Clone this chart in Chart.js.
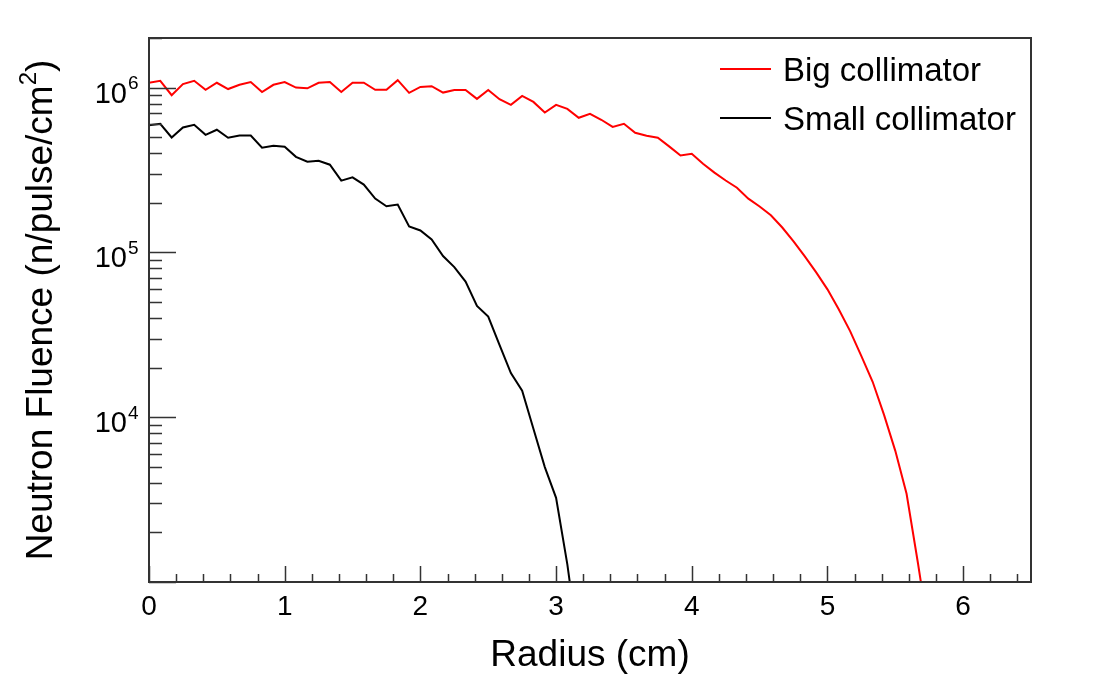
<!DOCTYPE html>
<html>
<head>
<meta charset="utf-8">
<script src="https://cdn.jsdelivr.net/npm/chart.js@4"></script>
<style>
  html, body { margin: 0; padding: 0; background: #fff; }
  #wrap { width: 1103px; height: 679px; }
</style>
</head>
<body>
<div id="wrap"><canvas id="fluence"></canvas></div>
<script>
// radius in cm (bins of 1/12 cm)
var radius = [0, 0.083, 0.167, 0.25, 0.333, 0.417, 0.5, 0.583, 0.667, 0.75,
  0.833, 0.917, 1, 1.083, 1.167, 1.25, 1.333, 1.417, 1.5, 1.583,
  1.667, 1.75, 1.833, 1.917, 2, 2.083, 2.167, 2.25, 2.333, 2.417,
  2.5, 2.583, 2.667, 2.75, 2.833, 2.917, 3, 3.083, 3.167, 3.25,
  3.333, 3.417, 3.5, 3.583, 3.667, 3.75, 3.833, 3.917, 4, 4.083,
  4.167, 4.25, 4.333, 4.417, 4.5, 4.583, 4.667, 4.75, 4.833, 4.917,
  5, 5.083, 5.167, 5.25, 5.333, 5.417, 5.5, 5.583, 5.667, 5.75];

// n/pulse/cm2
var bigColl = [1.07e6, 1.10e6, 0.90e6, 1.05e6, 1.10e6, 0.97e6, 1.07e6, 0.98e6, 1.04e6, 1.08e6,
  0.94e6, 1.04e6, 1.08e6, 1.00e6, 0.99e6, 1.07e6, 1.08e6, 0.94e6, 1.07e6, 1.07e6,
  0.97e6, 0.97e6, 1.11e6, 0.93e6, 1.01e6, 1.02e6, 0.933e6, 0.968e6, 0.968e6, 0.854e6,
  0.968e6, 0.85e6, 0.786e6, 0.891e6, 0.819e6, 0.706e6, 0.786e6, 0.743e6, 0.656e6, 0.693e6,
  0.638e6, 0.578e6, 0.603e6, 0.532e6, 0.510e6, 0.496e6, 0.440e6, 0.387e6, 0.397e6, 0.345e6,
  0.305e6, 0.273e6, 0.247e6, 0.212e6, 0.190e6, 0.168e6, 1.416e5, 1.165e5, 9.46e4, 7.57e4,
  5.97e4, 4.52e4, 3.33e4, 2.35e4, 1.64e4, 1.033e4, 6250, 3430, 1300, 470];

var smallColl = [5.90e5, 6.03e5, 4.98e5, 5.73e5, 5.95e5, 5.17e5, 5.55e5, 4.96e5, 5.12e5, 5.12e5,
  4.32e5, 4.44e5, 4.38e5, 3.80e5, 3.55e5, 3.60e5, 3.406e5, 2.727e5, 2.854e5, 2.578e5,
  2.122e5, 1.906e5, 1.952e5, 1.437e5, 1.359e5, 1.199e5, 9.50e4, 8.15e4, 6.65e4, 4.73e4,
  4.08e4, 2.75e4, 1.853e4, 1.448e4, 8500, 4980, 3240, 1280, 400];

var xMajor = [0, 1, 2, 3, 4, 5, 6];
var yMajor = [1e4, 1e5, 1e6];

var FONT = '"Liberation Sans", Arial, Helvetica, sans-serif';
var FRAME = '#333';

function pts(ys) {
  var out = [];
  for (var i = 0; i < ys.length; i++) out.push({x: radius[i], y: ys[i]});
  return out;
}

// ROOT style frame, inward ticks, labels, titles and legend
var rootStyle = {
  id: 'rootStyle',
  afterDraw: function(chart) {
    var c = chart.ctx, a = chart.chartArea;
    var xs = chart.scales.x, ys = chart.scales.y;
    c.save();
    c.strokeStyle = FRAME;
    c.lineWidth = 2;
    c.strokeRect(a.left, a.top, a.right - a.left, a.bottom - a.top);

    // x ticks
    c.lineWidth = 1.5;
    c.beginPath();
    for (var k = 0; k <= 32; k++) {
      var v = k * 0.2;
      var px = Math.round(xs.getPixelForValue(v)) + 0.5;
      var len = (k % 5 === 0) ? 16 : 8;
      c.moveTo(px, a.bottom);
      c.lineTo(px, a.bottom - len);
    }
    // y ticks
    for (var e = 3; e <= 6; e++) {
      for (var m = 1; m <= 9; m++) {
        var val = m * Math.pow(10, e);
        if (val < ys.min || val > ys.max) continue;
        var py = Math.round(ys.getPixelForValue(val)) + 0.5;
        var l = (m === 1) ? 27 : 13;
        c.moveTo(a.left, py);
        c.lineTo(a.left + l, py);
      }
    }
    c.stroke();

    // y labels 10^n
    c.fillStyle = '#000';
    yMajor.forEach(function(v) {
      var py = ys.getPixelForValue(v);
      var ex = String(Math.round(Math.log10(v)));
      c.font = '29px ' + FONT;
      c.textAlign = 'right';
      c.textBaseline = 'alphabetic';
      c.fillText('10', 127, py + 15);
      c.font = '19px ' + FONT;
      c.textAlign = 'left';
      c.fillText(ex, 128, py + 1.5);
    });

    // x title
    c.font = '37px ' + FONT;
    c.textAlign = 'center';
    c.textBaseline = 'alphabetic';
    c.fillText('Radius (cm)', (a.left + a.right) / 2, 666);

    // y title, rotated, with superscript
    var main = 'Neutron Fluence (n/pulse/cm';
    c.save();
    c.translate(52, (a.top + a.bottom) / 2);
    c.rotate(-Math.PI / 2);
    c.font = '37px ' + FONT;
    var w1 = c.measureText(main).width;
    c.font = '24px ' + FONT;
    var w2 = c.measureText('2').width;
    c.font = '37px ' + FONT;
    var w3 = c.measureText(')').width;
    var x0 = -(w1 + w2 + w3) / 2;
    c.textAlign = 'left';
    c.fillText(main, x0, 0);
    c.font = '24px ' + FONT;
    c.fillText('2', x0 + w1, -16);
    c.font = '37px ' + FONT;
    c.fillText(')', x0 + w1 + w2, 0);
    c.restore();

    // legend
    var rows = [69, 118];
    chart.data.datasets.forEach(function(ds, i) {
      c.strokeStyle = ds.borderColor;
      c.lineWidth = 2;
      c.beginPath();
      c.moveTo(720, rows[i]);
      c.lineTo(771, rows[i]);
      c.stroke();
      c.fillStyle = '#000';
      c.font = '33px ' + FONT;
      c.textAlign = 'left';
      c.textBaseline = 'alphabetic';
      c.fillText(ds.label, 783, rows[i] + 11.5);
    });
    c.restore();
  }
};

var ctx = document.getElementById('fluence').getContext('2d');
var chart = new Chart(ctx, {
  type: 'line',
  data: {
    datasets: [{
      label: 'Big collimator',
      data: pts(bigColl),
      borderColor: '#ff0000',
      borderWidth: 2,
      pointRadius: 0,
      tension: 0,
      fill: false
    }, {
      label: 'Small collimator',
      data: pts(smallColl),
      borderColor: '#000000',
      borderWidth: 2,
      pointRadius: 0,
      tension: 0,
      fill: false
    }]
  },
  options: {
    responsive: true,
    maintainAspectRatio: false,
    animation: false,
    layout: { padding: { top: 38, right: 72, left: 0, bottom: 0 } },
    plugins: {
      legend: { display: false },
      tooltip: { enabled: false }
    },
    scales: {
      x: {
        type: 'linear',
        min: 0,
        max: 6.5,
        grid: { display: false, drawTicks: false },
        border: { display: false },
        ticks: {
          color: '#000',
          padding: 8,
          maxRotation: 0,
          font: { family: FONT, size: 28 }
        },
        afterBuildTicks: function(s) {
          s.ticks = xMajor.map(function(v) { return {value: v}; });
        },
        afterFit: function(s) { s.height = 97; }
      },
      y: {
        type: 'logarithmic',
        min: 1000,
        max: 2e6,
        grid: { display: false, drawTicks: false },
        border: { display: false },
        ticks: { display: false },
        afterFit: function(s) { s.width = 149; }
      }
    }
  },
  plugins: [rootStyle]
});
</script>
</body>
</html>
